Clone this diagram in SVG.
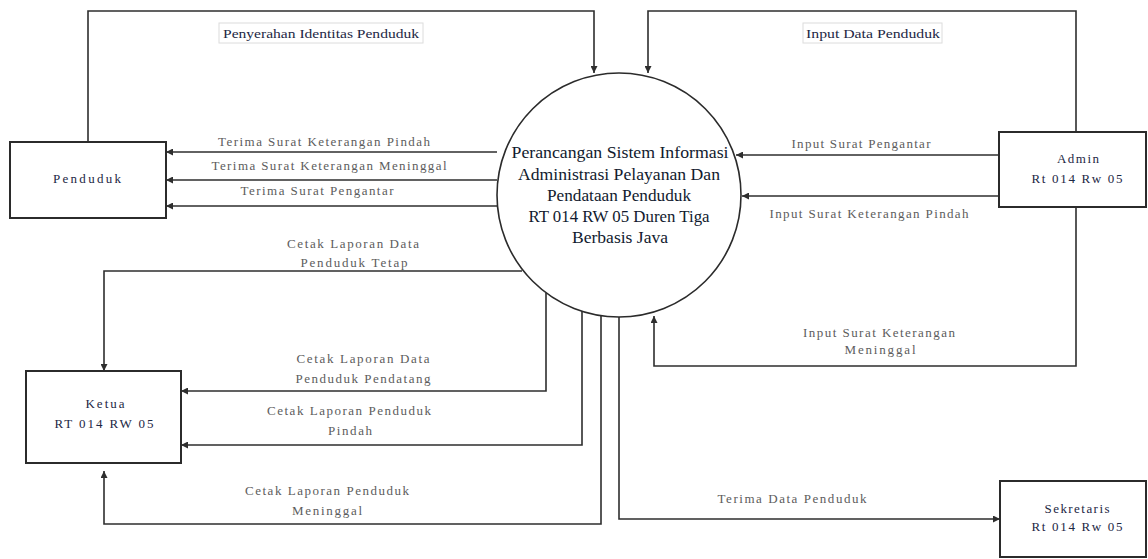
<svg xmlns="http://www.w3.org/2000/svg" width="1148" height="559" viewBox="0 0 1148 559">
<style>
  .box { fill: #ffffff; stroke: #2b2b2b; stroke-width: 2; }
  .proc { fill: #ffffff; stroke: #2b2b2b; stroke-width: 1.6; }
  .line { fill: none; stroke: #2e2e2e; stroke-width: 1.6; }
  .ntext { font-family: "Liberation Serif", "Times New Roman", serif; font-size: 13px; fill: #1d2744; text-anchor: middle; }
  .ptext { font-family: "Liberation Serif", "Times New Roman", serif; font-size: 17px; fill: #111a2e; text-anchor: middle; }
  .ltext { font-family: "Liberation Serif", "Times New Roman", serif; font-size: 13px; fill: #5c5c5c; text-anchor: middle; }
  .ttext { font-family: "Liberation Serif", "Times New Roman", serif; font-size: 13px; fill: #1d2744; text-anchor: middle; }
  .lbox { fill: #ffffff; stroke: #dcdcdc; stroke-width: 1; }
</style>
<defs>
  <marker id="arrow" markerWidth="8" markerHeight="7" refX="7" refY="3.5" orient="auto" markerUnits="userSpaceOnUse">
    <path d="M0,0 L7,3.5 L0,7 z" fill="#2e2e2e"/>
  </marker>
</defs>
<rect width="1148" height="559" fill="#ffffff"/>

<g id="connectors">
  <path class="line" d="M88,142 V11 H594 V73" marker-end="url(#arrow)"/>
  <path class="line" d="M1076,132 V11 H648 V73" marker-end="url(#arrow)"/>
  <path class="line" d="M497,152 H166" marker-end="url(#arrow)"/>
  <path class="line" d="M497,180 H166" marker-end="url(#arrow)"/>
  <path class="line" d="M497,206 H166" marker-end="url(#arrow)"/>
  <path class="line" d="M999,155 H736" marker-end="url(#arrow)"/>
  <path class="line" d="M999,196 H742" marker-end="url(#arrow)"/>
  <path class="line" d="M522,271 H104 V371" marker-end="url(#arrow)"/>
  <path class="line" d="M546,293 V391 H181" marker-end="url(#arrow)"/>
  <path class="line" d="M582,311 V445 H181" marker-end="url(#arrow)"/>
  <path class="line" d="M601,316 V524 H104 V471" marker-end="url(#arrow)"/>
  <path class="line" d="M619,317 V519 H1000" marker-end="url(#arrow)"/>
  <path class="line" d="M1076,207 V366 H654 V316" marker-end="url(#arrow)"/>

  <rect class="lbox" x="219" y="23" width="204" height="20"/>
  <text class="ttext" x="321" y="37.5" textLength="196" lengthAdjust="spacingAndGlyphs">Penyerahan Identitas Penduduk</text>
  <rect class="lbox" x="803" y="23" width="139" height="20"/>
  <text class="ttext" x="873" y="37.5" textLength="134" lengthAdjust="spacingAndGlyphs">Input Data Penduduk</text>

  <text class="ltext" x="324" y="145.5" textLength="212" lengthAdjust="spacing">Terima Surat Keterangan Pindah</text>
  <text class="ltext" x="329" y="169.5" textLength="235" lengthAdjust="spacing">Terima Surat Keterangan Meninggal</text>
  <text class="ltext" x="317" y="194.5" textLength="153" lengthAdjust="spacing">Terima Surat Pengantar</text>

  <text class="ltext" x="861" y="147.5" textLength="139" lengthAdjust="spacing">Input Surat Pengantar</text>
  <text class="ltext" x="869" y="217.5" textLength="199" lengthAdjust="spacing">Input Surat Keterangan Pindah</text>

  <text class="ltext" x="353" y="247.5" textLength="132" lengthAdjust="spacing">Cetak Laporan Data</text>
  <text class="ltext" x="354" y="266.5" textLength="107" lengthAdjust="spacing">Penduduk Tetap</text>

  <text class="ltext" x="363" y="362.5" textLength="133" lengthAdjust="spacing">Cetak Laporan Data</text>
  <text class="ltext" x="363" y="382.5" textLength="135" lengthAdjust="spacing">Penduduk Pendatang</text>

  <text class="ltext" x="349" y="414.5" textLength="164" lengthAdjust="spacing">Cetak Laporan Penduduk</text>
  <text class="ltext" x="350" y="434.5" textLength="44" lengthAdjust="spacing">Pindah</text>

  <text class="ltext" x="327" y="494.5" textLength="164" lengthAdjust="spacing">Cetak Laporan Penduduk</text>
  <text class="ltext" x="327" y="514.5" textLength="70" lengthAdjust="spacing">Meninggal</text>

  <text class="ltext" x="879" y="336.5" textLength="152" lengthAdjust="spacing">Input Surat Keterangan</text>
  <text class="ltext" x="880" y="353.5" textLength="71" lengthAdjust="spacing">Meninggal</text>

  <text class="ltext" x="792" y="502.5" textLength="149" lengthAdjust="spacing">Terima Data Penduduk</text>
</g>

<g id="process">
  <ellipse class="proc" cx="619" cy="195" rx="122" ry="122"/>
  <text class="ptext" x="620" y="157.5" textLength="217" lengthAdjust="spacingAndGlyphs">Perancangan Sistem Informasi</text>
  <text class="ptext" x="619" y="179.5" textLength="202" lengthAdjust="spacingAndGlyphs">Administrasi Pelayanan Dan</text>
  <text class="ptext" x="619" y="200.5" textLength="144" lengthAdjust="spacingAndGlyphs">Pendataan Penduduk</text>
  <text class="ptext" x="619" y="221.5" textLength="181" lengthAdjust="spacingAndGlyphs">RT 014 RW 05 Duren Tiga</text>
  <text class="ptext" x="620" y="242.5" textLength="96" lengthAdjust="spacingAndGlyphs">Berbasis Java</text>
</g>

<g id="penduduk">
  <rect class="box" x="10" y="142" width="156" height="76"/>
  <text class="ntext" x="87" y="182.5" textLength="68" lengthAdjust="spacing">Penduduk</text>
</g>

<g id="admin">
  <rect class="box" x="999" y="132" width="147" height="75"/>
  <text class="ntext" x="1078" y="162.5" textLength="42" lengthAdjust="spacing">Admin</text>
  <text class="ntext" x="1077" y="182.5" textLength="91" lengthAdjust="spacing">Rt 014 Rw 05</text>
</g>

<g id="ketua">
  <rect class="box" x="26" y="371" width="155" height="92"/>
  <text class="ntext" x="105" y="407.5" textLength="39" lengthAdjust="spacing">Ketua</text>
  <text class="ntext" x="104" y="427.5" textLength="99" lengthAdjust="spacing">RT 014 RW 05</text>
</g>

<g id="sekretaris">
  <rect class="box" x="1000" y="481" width="146" height="76"/>
  <text class="ntext" x="1077" y="512.5" textLength="65" lengthAdjust="spacing">Sekretaris</text>
  <text class="ntext" x="1077" y="530.5" textLength="91" lengthAdjust="spacing">Rt 014 Rw 05</text>
</g>
</svg>
